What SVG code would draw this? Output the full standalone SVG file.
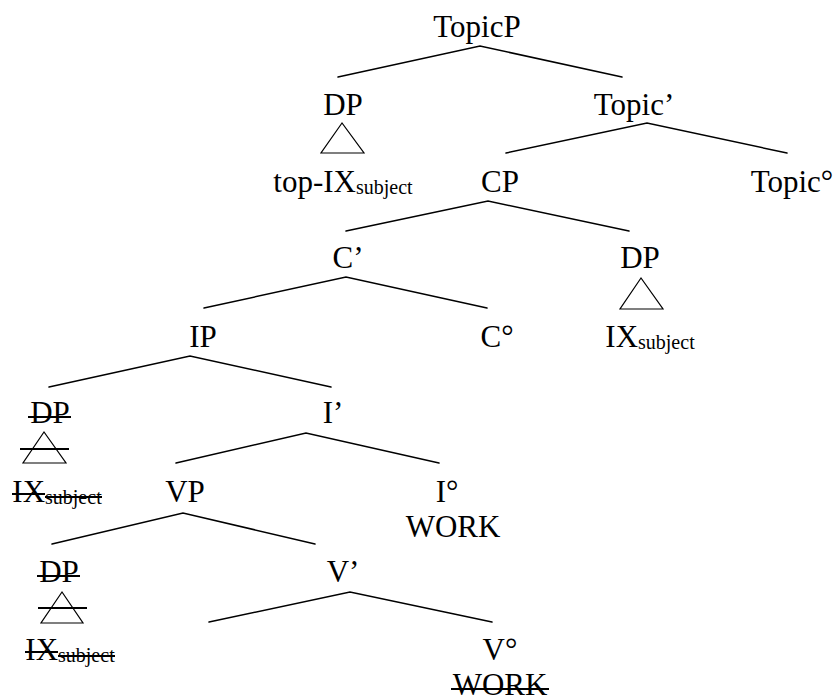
<svg xmlns="http://www.w3.org/2000/svg" width="839" height="697" viewBox="0 0 839 697">
  <style>
    text { font-family: "Liberation Serif", "Times New Roman", serif; font-size: 31px; fill: #000; text-anchor: middle; }
    .sub { font-size: 20px; }
    .edge { stroke: #000; stroke-width: 1.5; fill: none; stroke-linecap: round; }
    .tri { stroke: #000; stroke-width: 1.2; fill: none; stroke-linejoin: miter; }
    .strike { stroke: #000; stroke-width: 2; }
  </style>
  <rect width="839" height="697" fill="#fff"/>

  <!-- tree branches -->
  <g id="connectors">
    <path class="edge" d="M338,77 L480,46 L622,77"/>
    <path class="edge" d="M506,153 L647,123 L787,153"/>
    <path class="edge" d="M346,231 L488,201 L629,231"/>
    <path class="edge" d="M204,308 L346,277 L487,308"/>
    <path class="edge" d="M49,387 L190,356 L331,387"/>
    <path class="edge" d="M176,463 L306,433 L439,463"/>
    <path class="edge" d="M52,544 L183,513 L315,544"/>
    <path class="edge" d="M209,622 L350,592 L492,622"/>
  </g>

  <g id="topicp"><text x="477" y="37">TopicP</text></g>

  <g id="dp-topic">
    <text x="343" y="115">DP</text>
    <polygon class="tri" points="342,123 321,153 364,153"/>
    <text x="343" y="192">top-IX<tspan class="sub" dy="2">subject</tspan></text>
  </g>

  <g id="topic-bar"><text x="634" y="115">Topic’</text></g>
  <g id="cp"><text x="500" y="192">CP</text></g>
  <g id="topic-head"><text x="792" y="192">Topic°</text></g>

  <g id="c-bar"><text x="348" y="268">C’</text></g>

  <g id="dp-spec">
    <text x="640" y="268">DP</text>
    <polygon class="tri" points="641,278 620,309 663,309"/>
    <text x="650" y="347">IX<tspan class="sub" dy="2">subject</tspan></text>
  </g>

  <g id="ip"><text x="203" y="347">IP</text></g>
  <g id="c-head"><text x="497" y="347">C°</text></g>

  <g id="dp-ip-trace">
    <text x="50" y="423">DP</text>
    <line class="strike" x1="28" y1="417" x2="71" y2="417"/>
    <polygon class="tri" points="44,432 23,463 66,463"/>
    <line class="strike" x1="20" y1="449" x2="69" y2="449"/>
    <text x="57" y="502">IX<tspan class="sub" dy="2">subject</tspan></text>
    <line class="strike" x1="12" y1="494" x2="45" y2="494"/>
    <line class="strike" x1="45" y1="497" x2="102" y2="497"/>
  </g>

  <g id="i-bar"><text x="333" y="423">I’</text></g>
  <g id="vp"><text x="185" y="502">VP</text></g>

  <g id="i-head">
    <text x="447" y="502">I°</text>
    <text x="453" y="537">WORK</text>
  </g>

  <g id="dp-vp-trace">
    <text x="59" y="582">DP</text>
    <line class="strike" x1="37" y1="576" x2="80" y2="576"/>
    <polygon class="tri" points="62,592 41,623 83,623"/>
    <line class="strike" x1="38" y1="608" x2="87" y2="608"/>
    <text x="70" y="660">IX<tspan class="sub" dy="2">subject</tspan></text>
    <line class="strike" x1="25" y1="652" x2="58" y2="652"/>
    <line class="strike" x1="58" y1="656" x2="115" y2="656"/>
  </g>

  <g id="v-bar"><text x="343" y="582">V’</text></g>

  <g id="v-head">
    <text x="500" y="660">V°</text>
    <text x="500" y="695">WORK</text>
    <line class="strike" x1="451" y1="689" x2="549" y2="689"/>
  </g>
</svg>
